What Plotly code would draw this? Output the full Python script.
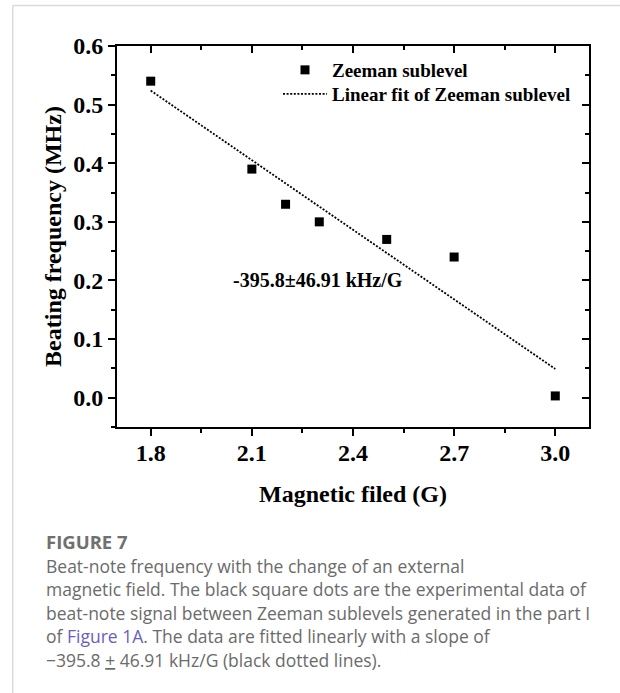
import plotly.graph_objects as go

# ---- data ----
field_G = [1.8, 2.1, 2.2, 2.3, 2.5, 2.7, 3.0]
beat_MHz = [0.54, 0.39, 0.33, 0.30, 0.27, 0.24, 0.003]
fit_x = [1.8, 3.0]
fit_y = [0.524, 0.049]
x_ticks = [1.8, 2.1, 2.4, 2.7, 3.0]
y_ticks = [0.0, 0.1, 0.2, 0.3, 0.4, 0.5, 0.6]
slope_label = "-395.8±46.91 kHz/G"

W, H = 620, 693
ML, MR, MT, MB = 117, 31, 46, 266
PW, PH = W - ML - MR, H - MT - MB

def px(xpix):
    return (xpix - ML) / PW

def py(ypix):
    return (H - MB - ypix) / PH

SERIF = "Liberation Serif"
CAP = "Open Sans"

fig = go.Figure()
fig.add_trace(go.Scatter(
    x=field_G, y=beat_MHz, mode="markers", name="Zeeman sublevel",
    marker=dict(symbol="square", size=9, color="black"), legend="legend",
))
fig.add_trace(go.Scatter(
    x=fit_x, y=fit_y, mode="lines", name="Linear fit of Zeeman sublevel",
    line=dict(color="black", width=1.8, dash="2px,1.6px"), legend="legend2",
))
# invisible trace to bind mirror axes
fig.add_trace(go.Scatter(x=[fit_x[0]], y=[fit_y[0]], xaxis="x2", yaxis="y2",
                         mode="markers", marker=dict(opacity=0), showlegend=False,
                         hoverinfo="skip"))

tickfont = dict(family=SERIF, size=24, color="black", weight="bold")
titlefont = dict(family=SERIF, size=24, color="black", weight="bold")
legfont = dict(family=SERIF, size=19, color="black", weight="bold")
annfont = dict(family=SERIF, size=20, color="black", weight="bold")
xr = [1.7, 3.1]
yr = [-0.05, 0.6]

def leg(ycenter):
    return dict(
        x=px(278), y=py(ycenter), xanchor="left", yanchor="middle",
        bgcolor="rgba(0,0,0,0)", borderwidth=0, font=legfont, itemwidth=44,
    )

fig.update_layout(
    width=W, height=H,
    margin=dict(l=ML, r=MR, t=MT, b=MB, autoexpand=False),
    paper_bgcolor="white", plot_bgcolor="white",
    showlegend=True,
    legend=leg(70.0),
    legend2=leg(94.0),
    xaxis=dict(
        range=xr, tickvals=x_ticks, ticktext=[f"{v:.1f}" for v in x_ticks],
        ticks="outside", ticklen=7, tickwidth=2, tickcolor="black",
        showline=True, linewidth=2, linecolor="black", mirror=False,
        showgrid=False, zeroline=False, tickfont=tickfont,
        ticklabelstandoff=-4,
        minor=dict(tickvals=[1.95, 2.25, 2.55, 2.85], ticks="outside",
                   ticklen=4, tickwidth=1.5, tickcolor="black", showgrid=False),
        title=dict(text="Magnetic filed (G)", font=titlefont, standoff=20),
    ),
    yaxis=dict(
        range=yr, tickvals=y_ticks, ticktext=[f"{v:.1f}" for v in y_ticks],
        ticks="outside", ticklen=7, tickwidth=2, tickcolor="black",
        showline=True, linewidth=2, linecolor="black", mirror=False,
        showgrid=False, zeroline=False, tickfont=tickfont,
        minor=dict(tickvals=[-0.05, 0.05, 0.15, 0.25, 0.35, 0.45, 0.55],
                   ticks="outside", ticklen=4, tickwidth=1.5,
                   tickcolor="black", showgrid=False),
        title=dict(text="Beating frequency (MHz)", font=titlefont, standoff=5),
    ),
    xaxis2=dict(
        range=xr, overlaying="x", side="top", anchor="y",
        tickvals=x_ticks, ticks="inside", ticklen=7, tickwidth=2,
        tickcolor="black", showticklabels=False,
        showline=True, linewidth=2, linecolor="black",
        showgrid=False, zeroline=False,
        minor=dict(tickvals=[1.95, 2.25, 2.55, 2.85], ticks="inside",
                   ticklen=4, tickwidth=1.5, tickcolor="black", showgrid=False),
    ),
    yaxis2=dict(
        range=yr, overlaying="y", side="right", anchor="x",
        tickvals=y_ticks, ticks="inside", ticklen=7, tickwidth=2,
        tickcolor="black", showticklabels=False,
        showline=True, linewidth=2, linecolor="black",
        showgrid=False, zeroline=False,
        minor=dict(tickvals=[-0.05, 0.05, 0.15, 0.25, 0.35, 0.45, 0.55],
                   ticks="inside", ticklen=4, tickwidth=1.5,
                   tickcolor="black", showgrid=False),
    ),
)

# slope annotation inside plot
fig.add_annotation(
    x=2.295, y=0.20, xref="x", yref="y", text=slope_label, showarrow=False,
    font=annfont, xanchor="center", yanchor="middle",
)

# frame lines of the figure card
frame = "#dadada"
fig.add_shape(type="line", xref="paper", yref="paper",
              x0=px(12.7), x1=px(620), y0=py(5.5), y1=py(5.5),
              line=dict(color=frame, width=1.5))
fig.add_shape(type="line", xref="paper", yref="paper",
              x0=px(12.7), x1=px(12.7), y0=py(5.5), y1=py(693),
              line=dict(color=frame, width=1.5))

# caption
cap_color = "#6b6b6b"
link = "#6a5fc1"
fig.add_annotation(
    x=px(44), y=py(541.7), xref="paper", yref="paper", text="FIGURE 7",
    showarrow=False, xanchor="left", yanchor="middle",
    font=dict(family=CAP, size=18.5, color="#707070", weight="bold"),
)
caption_lines = [
    "Beat-note frequency with the change of an external",
    "magnetic field. The black square dots are the experimental data of",
    "beat-note signal between Zeeman sublevels generated in the part I",
    f"of <span style='color:{link}'>Figure 1A</span>. The data are fitted linearly with a slope of",
    "\u2212395.8 <u>+</u> 46.91 kHz/G (black dotted lines).",
]
line_y = [565.5, 589.0, 612.5, 636.0, 659.5]
for t, yy in zip(caption_lines, line_y):
    fig.add_annotation(
        x=px(44), y=py(yy), xref="paper", yref="paper", text=t,
        showarrow=False, xanchor="left", yanchor="middle",
        font=dict(family=CAP, size=17.5, color=cap_color),
    )

fig.write_html("out.html")
